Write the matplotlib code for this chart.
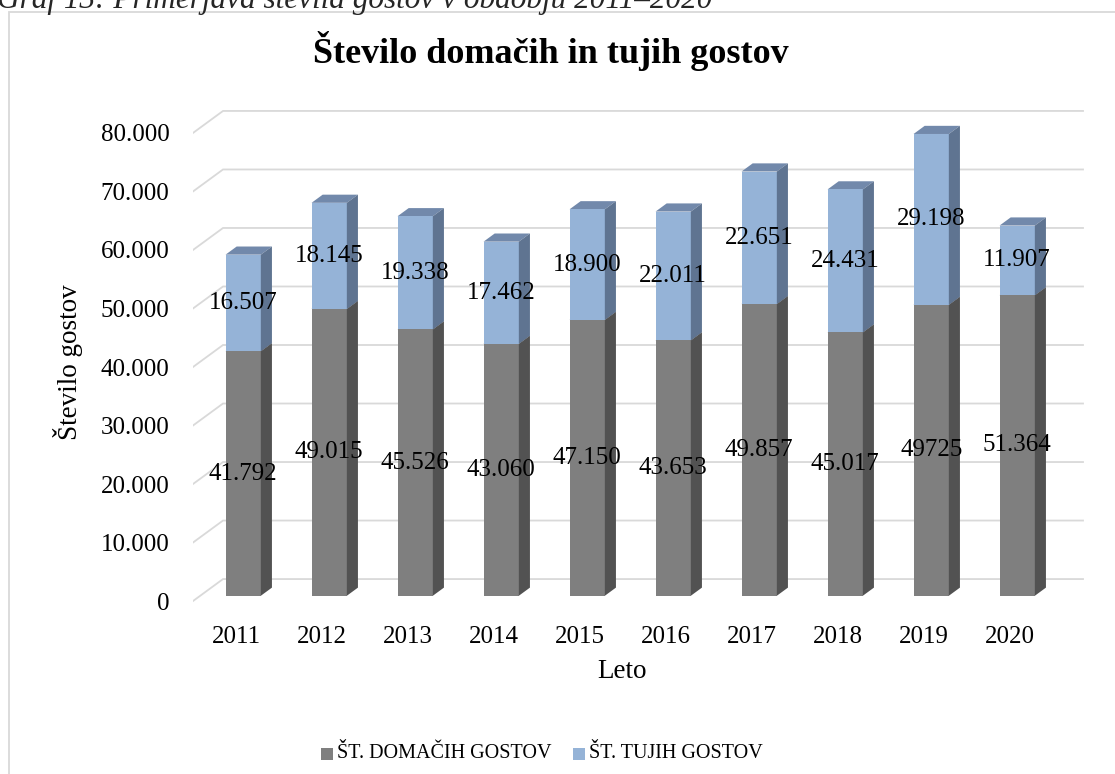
import numpy as np
import matplotlib
matplotlib.use('Agg')
import matplotlib.pyplot as plt
from matplotlib.patches import Polygon, Rectangle

leta = ['2011', '2012', '2013', '2014', '2015', '2016', '2017', '2018', '2019', '2020']
domaci = [41792, 49015, 45526, 43060, 47150, 43653, 49857, 45017, 49725, 51364]
tuji = [16507, 18145, 19338, 17462, 18900, 22011, 22651, 24431, 29198, 11907]
domaci_lbl = ['41.792', '49.015', '45.526', '43.060', '47.150', '43.653', '49.857', '45.017', '49725', '51.364']
tuji_lbl = ['16.507', '18.145', '19.338', '17.462', '18.900', '22.011', '22.651', '24.431', '29.198', '11.907']
yticks = [0, 10000, 20000, 30000, 40000, 50000, 60000, 70000, 80000]
yticklbl = ['0', '10.000', '20.000', '30.000', '40.000', '50.000', '60.000', '70.000', '80.000']

plt.rcParams['font.family'] = ['Liberation Serif', 'DejaVu Serif']

# 3D look: depth of the back wall and of the bars (in data units)
DX, DY = 0.349, 3760.0
f0, fd = 0.24, 0.37
bw = 0.41

fig = plt.figure(figsize=(11.15, 7.74), dpi=100)
W, H = 1115, 774
ax = fig.add_axes([193 / W, (774 - 618.6) / H, 903 / W, (618.6 - 103.7) / H])
ax.set_xlim(-0.5, 10.0)
ax.set_ylim(-3000, 85000)
for s in ax.spines.values():
    s.set_visible(False)

# grid: diagonal on the left side wall + horizontal on back wall
for v in yticks:
    ax.plot([-0.5, -0.5 + DX, 9.5 + DX], [v, v + DY, v + DY], color='#d9d9d9', lw=1.3, zorder=1,
            solid_joinstyle='miter')

x = np.arange(len(leta))
bx, by = f0 * DX, f0 * DY
sx, sy = fd * DX, fd * DY

series = [(np.zeros(len(x)), np.array(domaci), '#7f7f7f', '#525252', '#6a6a6a'),
          (np.array(domaci), np.array(tuji), '#95b3d7', '#5f7491', '#7289ab')]
for bottom, vals, c_front, c_side, c_top in series:
    ax.bar(x + bx, vals, bottom=bottom + by, width=bw, color=c_front, zorder=3)
    for xi, b, v in zip(x, bottom, vals):
        r = xi + bx + bw / 2
        l = xi + bx - bw / 2
        y0, y1 = b + by, b + v + by
        ax.add_patch(Polygon([(r, y0), (r + sx, y0 + sy), (r + sx, y1 + sy), (r, y1)],
                             closed=True, facecolor=c_side, edgecolor='none', zorder=3))
        ax.add_patch(Polygon([(l, y1), (l + sx, y1 + sy), (r + sx, y1 + sy), (r, y1)],
                             closed=True, facecolor=c_top, edgecolor='none', zorder=2.9))

for xi, d, t, dl, tl in zip(x, domaci, tuji, domaci_lbl, tuji_lbl):
    ax.text(xi + bx, d / 2 + by, dl, ha='center', va='center', fontsize=18, zorder=5)
    ax.text(xi + bx, d + t / 2 + by, tl, ha='center', va='center', fontsize=18, zorder=5)

ax.set_yticks(yticks)
ax.set_yticklabels(yticklbl, fontsize=18)
ax.set_xticks(x)
ax.set_xticklabels(leta, fontsize=18)
ax.tick_params(axis='y', length=0, pad=17)
ax.tick_params(axis='x', length=0, pad=5)
ax.set_xlabel('Leto', fontsize=19.5, va='center')
ax.xaxis.set_label_coords((622 - 193) / 903, (618.6 - 672) / 514.9)
ax.set_ylabel('Število gostov', fontsize=19.5, va='center')
ax.yaxis.set_label_coords((68 - 193) / 903, (618.6 - 362) / 514.9)

# chart frame and titles
fig.patches.append(Rectangle((9 / W, -0.1), 1.2, (774 - 12) / H + 0.1, transform=fig.transFigure,
                             facecolor='none', edgecolor='#d9d9d9', lw=1.3, zorder=0))
fig.text(551 / W, 1 - 63 / H, 'Število domačih in tujih gostov', ha='center', va='baseline',
         fontsize=26, fontweight='bold')
fig.text(-3 / W, 1 - 8 / H, 'Graf 13: Primerjava števila gostov v obdobju 2011–2020', ha='left',
         va='baseline', fontsize=22.5, style='italic', color='#262626')

# legend
leg = [('ŠT. DOMAČIH GOSTOV', '#7f7f7f', 321), ('ŠT. TUJIH GOSTOV', '#95b3d7', 573)]
for txt, col, px in leg:
    fig.patches.append(Rectangle((px / W, 1 - 760 / H), 12 / W, 12 / H, transform=fig.transFigure,
                                 facecolor=col, edgecolor='none'))
    fig.text((px + 16) / W, 1 - 754 / H, txt, ha='left', va='center', fontsize=14.5)

fig.savefig('out.png', dpi=100)
